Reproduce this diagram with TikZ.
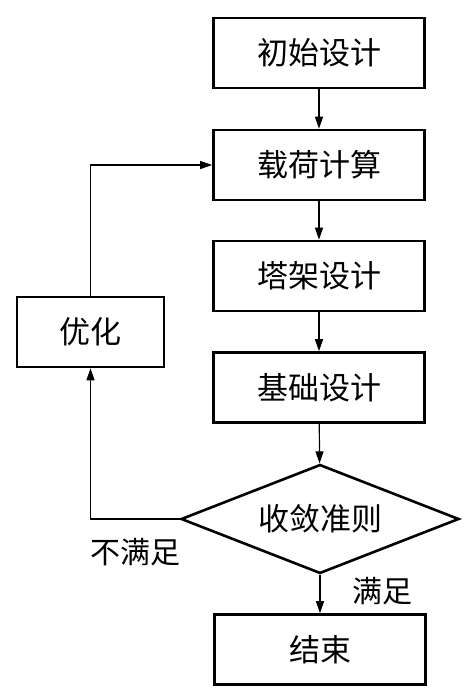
\documentclass[tikz,border=0pt]{standalone}
\usepackage{fontspec}
\newfontfamily\cjk{Noto Sans CJK SC}
\usetikzlibrary{shapes.geometric,arrows.meta}
\begin{document}
\begin{tikzpicture}[x=1pt,y=-1pt,
  box/.style={draw,line width=2.6pt,minimum width=211pt,minimum height=70pt,inner sep=0pt,font=\cjk\fontsize{31}{31}\selectfont},
  dec/.style={draw,line width=2.6pt,diamond,aspect=2.55,minimum width=278pt,minimum height=109pt,inner sep=0pt,font=\cjk\fontsize{31}{31}\selectfont},
  conn/.style={line width=1.2pt,-{Triangle[length=12pt,width=8pt]}},
  lbl/.style={font=\cjk\fontsize{30}{30}\selectfont,inner sep=0pt}]
\useasboundingbox (0,0) rectangle (468,699);
\node[box] (a) at (319,53) {初始设计};
\node[box] (b) at (319,165) {载荷计算};
\node[box] (c) at (319,276) {塔架设计};
\node[box] (d) at (319,387.5) {基础设计};
\node[dec] (e) at (320,519) {收敛准则};
\node[box] (f) at (320,649.5) {结束};
\node[draw,line width=2.6pt,minimum width=147pt,minimum height=70pt,inner sep=0pt,font=\cjk\fontsize{31}{31}\selectfont] (g) at (90.5,332) {优化};
\draw[conn] (a) -- (b);
\draw[conn] (b) -- (c);
\draw[conn] (c) -- (d);
\draw[conn] (d) -- (e);
\draw[conn] (e) -- (f);
\draw[conn] (e.west) -| (g.south);
\draw[conn] (g.north) |- (b.west);
\node[lbl] (l1) at (135,552) {不满足};
\node[lbl] (l2) at (382,591) {满足};
\end{tikzpicture}
\end{document}
